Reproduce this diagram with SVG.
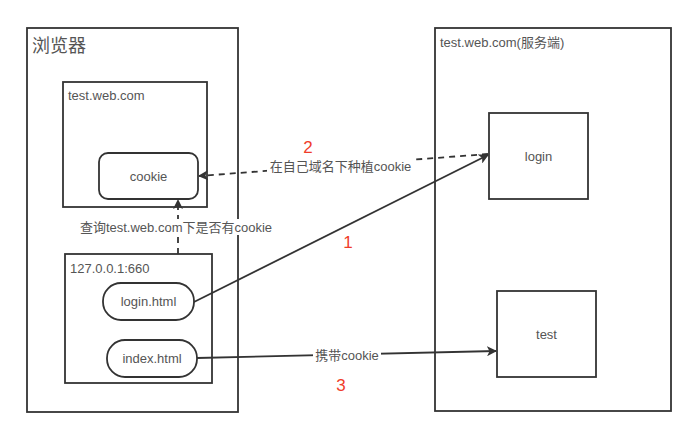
<svg xmlns="http://www.w3.org/2000/svg" width="693" height="431" viewBox="0 0 693 431">
<defs>
<marker id="arr" viewBox="0 0 10 10" refX="9" refY="5" markerWidth="10" markerHeight="10" markerUnits="userSpaceOnUse" orient="auto">
<path d="M0,0 L10,5 L0,10 L2.5,5 Z" fill="#333"/>
</marker>
</defs>
<style>
.box{fill:#fff;stroke:#333;stroke-width:1.8}
.t{font-family:"Liberation Sans","Noto Sans CJK SC",sans-serif;fill:#555;font-size:13px}
.c{text-anchor:middle;dominant-baseline:central}
.ln{fill:none;stroke:#333;stroke-width:1.8}
.dash{stroke-dasharray:6,5}
.num{font-family:"Liberation Sans",sans-serif;fill:#f03c2a;font-size:17px;text-anchor:middle;dominant-baseline:central}
.lbl{fill:#fff}
</style>
<rect width="693" height="431" fill="#fff"/>
<g id="browser">
<rect class="box" x="27" y="28" width="211" height="384"/>
<text class="t" x="32" y="52" style="font-size:18px">浏览器</text>
</g>
<g id="server">
<rect class="box" x="435" y="28" width="236" height="383"/>
<text class="t" x="440" y="47">test.web.com(服务端)</text>
</g>
<g id="domain">
<rect class="box" x="63" y="82" width="144" height="125"/>
<text class="t" x="68" y="100">test.web.com</text>
</g>
<g id="cookie">
<rect class="box" x="99" y="153" width="99" height="46" rx="9"/>
<text class="t c" x="148.5" y="176">cookie</text>
</g>
<g id="local">
<rect class="box" x="65" y="254" width="147" height="129"/>
<text class="t" x="70" y="273">127.0.0.1:660</text>
</g>
<g id="loginhtml">
<rect class="box" x="103" y="283" width="91" height="37" rx="18"/>
<text class="t c" x="148.5" y="301.5">login.html</text>
</g>
<g id="indexhtml">
<rect class="box" x="107" y="340" width="90" height="37" rx="18"/>
<text class="t c" x="152" y="358.5">index.html</text>
</g>
<g id="login">
<rect class="box" x="489" y="113" width="99" height="86"/>
<text class="t c" x="538.5" y="156">login</text>
</g>
<g id="test">
<rect class="box" x="497" y="291" width="99" height="86"/>
<text class="t c" x="546.5" y="334">test</text>
</g>
<g id="connectors">
<path class="ln dash" d="M178,254 L178,200" marker-end="url(#arr)"/>
<rect class="lbl" x="76" y="219" width="200" height="16"/>
<text class="t c" x="176" y="227">查询test.web.com下是否有cookie</text>
<path class="ln dash" d="M488,154 L199,176" marker-end="url(#arr)"/>
<rect class="lbl" x="267" y="158" width="147" height="16"/>
<text class="t c" x="340.5" y="166">在自己域名下种植cookie</text>
<path class="ln" d="M194,302 L488,155" marker-end="url(#arr)"/>
<path class="ln" d="M197,358 L496,351" marker-end="url(#arr)"/>
<rect class="lbl" x="313" y="347" width="68" height="17"/>
<text class="t c" x="347" y="355.5">携带cookie</text>
<text class="num" x="308" y="147">2</text>
<text class="num" x="348" y="242">1</text>
<text class="num" x="341" y="385">3</text>
</g>
</svg>
